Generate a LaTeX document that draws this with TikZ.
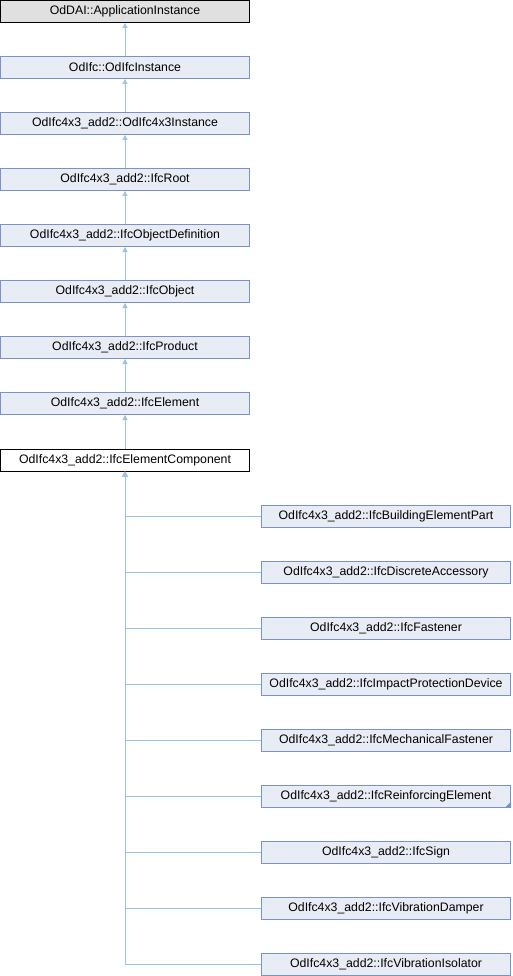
\documentclass[tikz,border=0pt]{standalone}
\usepackage{fontspec}
\setmainfont{Liberation Sans}
\usetikzlibrary{arrows.meta, positioning, calc}
\definecolor{edgeBlue}{HTML}{9BC3E3}
\definecolor{boxBlue}{HTML}{7B92C4}
\definecolor{boxFill}{HTML}{E8ECF5}
\definecolor{rootFill}{HTML}{E0E0E0}
\tikzset{
  cls/.style={draw=boxBlue, line width=1pt, fill=boxFill, minimum width=249pt,
              minimum height=22pt, inner sep=0pt, font=\fontsize{12.3pt}{14pt}\selectfont},
  rootcls/.style={cls, draw=black, fill=rootFill},
  curcls/.style={cls, draw=black, fill=white},
  inherit/.style={draw=edgeBlue, line width=1pt, {Triangle[length=5pt,width=5pt,fill=edgeBlue]}-},
}

\begin{document}
\begin{tikzpicture}[x=1pt, y=-1pt]
\useasboundingbox (0,0) rectangle (512,976);
% chain of base classes
\node[rootcls] (c0) at (125,11.5) {OdDAI::ApplicationInstance};
\node[cls] (c1) at (125,67.5) {OdIfc::OdIfcInstance};
\node[cls] (c2) at (125,123.5) {OdIfc4x3\_add2::OdIfc4x3Instance};
\node[cls] (c3) at (125,179.5) {OdIfc4x3\_add2::IfcRoot};
\node[cls] (c4) at (125,235.5) {OdIfc4x3\_add2::IfcObjectDefinition};
\node[cls] (c5) at (125,291.5) {OdIfc4x3\_add2::IfcObject};
\node[cls] (c6) at (125,347.5) {OdIfc4x3\_add2::IfcProduct};
\node[cls] (c7) at (125,403.5) {OdIfc4x3\_add2::IfcElement};
\node[curcls] (comp) at (125,460) {OdIfc4x3\_add2::IfcElementComponent};
\foreach \a/\b in {c0/c1, c1/c2, c2/c3, c3/c4, c4/c5, c5/c6, c6/c7, c7/comp}{
  \draw[inherit] (\a.south) -- (\b.north);
}
% derived classes
\node[cls] (d0) at (386,516.5) {OdIfc4x3\_add2::IfcBuildingElementPart};
\node[cls] (d1) at (386,572.5) {OdIfc4x3\_add2::IfcDiscreteAccessory};
\node[cls] (d2) at (386,628.5) {OdIfc4x3\_add2::IfcFastener};
\node[cls] (d3) at (386,684.5) {OdIfc4x3\_add2::IfcImpactProtectionDevice};
\node[cls] (d4) at (386,740.5) {OdIfc4x3\_add2::IfcMechanicalFastener};
\node[cls] (d5) at (386,796) {OdIfc4x3\_add2::IfcReinforcingElement};
\node[cls] (d6) at (386,852.5) {OdIfc4x3\_add2::IfcSign};
\node[cls] (d7) at (386,908.5) {OdIfc4x3\_add2::IfcVibrationDamper};
\node[cls] (d8) at (386,964) {OdIfc4x3\_add2::IfcVibrationIsolator};
\foreach \d in {d0,d1,d2,d3,d4,d5,d6,d7,d8}{
  \draw[inherit] (comp.south) |- (\d.west);
}
\fill[boxBlue] ($(d5.south east)+(-6,0)$) -- (d5.south east) -- ($(d5.south east)+(0,-6)$) -- cycle;
\end{tikzpicture}
\end{document}
